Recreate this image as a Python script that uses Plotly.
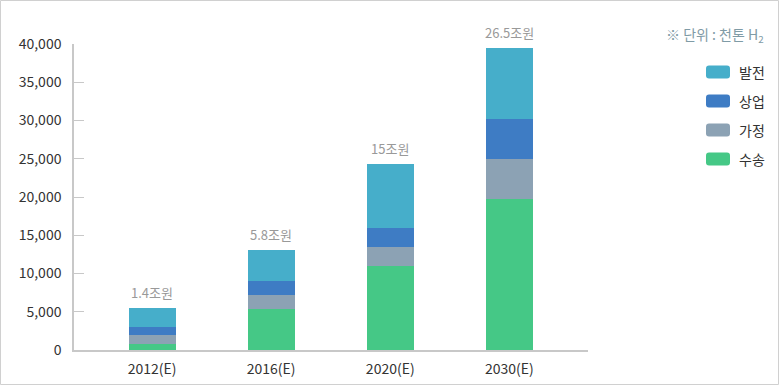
import plotly.graph_objects as go
import numpy as np

# ---- data ----
categories = ["2012(E)", "2016(E)", "2020(E)", "2030(E)"]
transport = [820, 5320, 10980, 19740]     # 수송
household = [1140, 1870, 2480, 5230]      # 가정
commercial = [1050, 1830, 2480, 5230]     # 상업
power = [2450, 4050, 8370, 9280]          # 발전
bar_labels = ["1.4조원", "5.8조원", "15조원", "26.5조원"]
tick_vals = [0, 5000, 10000, 15000, 20000, 25000, 30000, 35000, 40000]

series = [
    ("수송", transport, "#45c886"),
    ("가정", household, "#8ca2b4"),
    ("상업", commercial, "#3e7cc4"),
    ("발전", power, "#46aeca"),
]

W, H = 781, 386
ML, MR, MT, MB = 74, 193, 44, 36
PW = W - ML - MR
PH = H - MT - MB


def px_x(x):
    return (x - ML) / PW


def px_y(y):
    return (H - MB - y) / PH


fig = go.Figure()
for name, vals, color in series:
    fig.add_trace(go.Bar(
        x=categories, y=vals, name=name,
        marker=dict(color=color, line=dict(width=0)),
        width=0.395, showlegend=False,
    ))

totals = np.sum([transport, household, commercial, power], axis=0)
font_kr = "Noto Sans CJK KR, Noto Sans, sans-serif"

annotations = []
for cat, tot, lab in zip(categories, totals, bar_labels):
    annotations.append(dict(
        x=cat, y=float(tot), xref="x", yref="y", text=lab, showarrow=False,
        yanchor="bottom", yshift=4,
        font=dict(family=font_kr, size=13, color="#999999"),
    ))

# unit note
annotations.append(dict(
    x=px_x(766), y=px_y(35), xref="paper", yref="paper",
    text="※ 단위 : 천톤 H<sub>2</sub>", showarrow=False,
    xanchor="right", yanchor="middle",
    font=dict(family=font_kr, size=14, color="#7f9ba6"),
))

# custom legend with rounded swatches
shapes = []
legend_order = list(reversed(series))
legend_y = [72, 101, 130, 159]
r = 3
for (name, vals, color), ly in zip(legend_order, legend_y):
    xa, xb = 706, 730
    ya, yb = ly - 6.5, ly + 6.5
    pts = [
        ("M", xa + r, ya), ("L", xb - r, ya), ("Q", xb, ya, xb, ya + r),
        ("L", xb, yb - r), ("Q", xb, yb, xb - r, yb), ("L", xa + r, yb),
        ("Q", xa, yb, xa, yb - r), ("L", xa, ya + r), ("Q", xa, ya, xa + r, ya),
    ]
    path = ""
    for p in pts:
        if p[0] == "Q":
            path += f"Q{px_x(p[1])},{px_y(p[2])} {px_x(p[3])},{px_y(p[4])} "
        else:
            path += f"{p[0]}{px_x(p[1])},{px_y(p[2])} "
    path += "Z"
    shapes.append(dict(
        type="path", xref="paper", yref="paper", path=path,
        fillcolor=color, line=dict(width=0), layer="above",
    ))
    annotations.append(dict(
        x=px_x(737), y=px_y(ly), xref="paper", yref="paper",
        text=name, showarrow=False, xanchor="left", yanchor="middle",
        font=dict(family=font_kr, size=14, color="#333333"),
    ))

# outer border
shapes.append(dict(
    type="rect", xref="paper", yref="paper",
    x0=px_x(0.5), x1=px_x(778.5), y0=px_y(384.5), y1=px_y(0.5),
    line=dict(color="#d0d0d0", width=1), fillcolor="rgba(0,0,0,0)",
))

fig.update_layout(
    width=W, height=H, autosize=False,
    margin=dict(l=ML, r=MR, t=MT, b=MB, pad=0, autoexpand=False),
    barmode="stack",
    paper_bgcolor="white", plot_bgcolor="white",
    font=dict(family=font_kr, size=14, color="#333333"),
    annotations=annotations, shapes=shapes,
    showlegend=False,
)
fig.update_xaxes(
    range=[-0.655, 3.66], showgrid=False, zeroline=False, automargin=False,
    showline=True, linecolor="#c8c8c8", linewidth=2,
    ticks="", tickfont=dict(family=font_kr, size=14, color="#333333"),
    ticklabelstandoff=5,
)
fig.update_yaxes(
    range=[0, 40000], showgrid=False, zeroline=False, automargin=False,
    showline=True, linecolor="#c8c8c8", linewidth=1.5,
    tickvals=tick_vals, tickformat=",d",
    ticks="inside", ticklen=10, tickcolor="#c8c8c8", tickwidth=1,
    ticklabelstandoff=8,
    tickfont=dict(family=font_kr, size=14, color="#333333"),
)

fig.write_html(
    "out.html",
    config={"displayModeBar": False, "responsive": False},
    post_script="document.body.style.margin='0';document.body.style.overflow='hidden';",
)
